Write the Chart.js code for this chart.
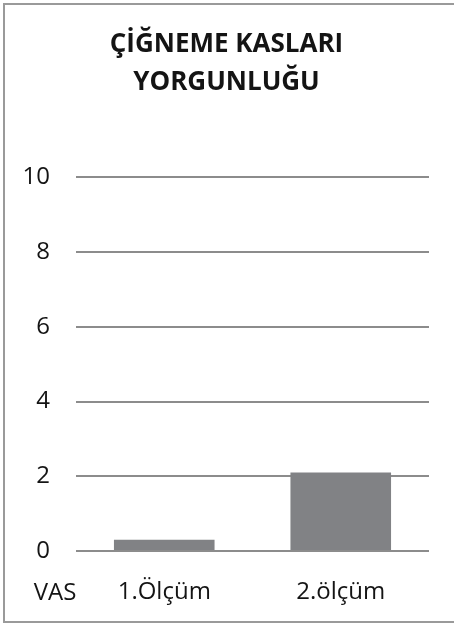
<!DOCTYPE html>
<html>
<head>
<meta charset="utf-8">
<script src="https://cdn.jsdelivr.net/npm/chart.js@4.4.0/dist/chart.umd.min.js"></script>
<style>
  html, body { margin: 0; padding: 0; background: #fff; }
  #wrap { position: relative; width: 454px; height: 623px; overflow: hidden; }
  #frame {
    position: absolute; left: 3px; top: 3px; width: 470px; height: 616px;
    border-top: 2px solid #9a9a9a; border-left: 2px solid #9a9a9a; border-bottom: 2px solid #9a9a9a;
  }
  canvas { position: absolute; left: 0; top: 0; }
</style>
</head>
<body>
<div id="wrap">
  <div id="frame"></div>
  <canvas id="chart" width="454" height="623"></canvas>
</div>
<script>
const titleLines = ['ÇİĞNEME KASLARI', 'YORGUNLUĞU'];
const categories = ['1.Ölçüm', '2.ölçüm'];
const values = [0.3, 2.1];
const yTicks = [0, 2, 4, 6, 8, 10];
const axisNote = 'VAS';

const fontFamily = '"Open Sans", "DejaVu Sans", sans-serif';
const textColor = '#141414';

// draws the "VAS" note left of the category labels
const vasLabel = {
  id: 'vasLabel',
  afterDraw(chart) {
    const ctx = chart.ctx;
    const xs = chart.scales.x;
    const ys = chart.scales.y;
    ctx.save();
    ctx.font = '24px ' + fontFamily;
    ctx.fillStyle = textColor;
    ctx.textAlign = 'center';
    ctx.textBaseline = 'middle';
    ctx.fillText(axisNote, ys.left + 31, xs.top + 42);
    ctx.restore();
  }
};

const ctx = document.getElementById('chart').getContext('2d');
new Chart(ctx, {
  type: 'bar',
  data: {
    labels: categories,
    datasets: [{
      data: values,
      backgroundColor: '#818285',
      borderWidth: 0,
      categoryPercentage: 1,
      barPercentage: 0.57
    }]
  },
  options: {
    responsive: false,
    animation: false,
    layout: { padding: { top: 26, left: 24, right: 25, bottom: 17 } },
    plugins: {
      legend: { display: false },
      tooltip: { enabled: false },
      title: {
        display: true,
        text: titleLines,
        color: textColor,
        font: { family: fontFamily, size: 26, weight: 'bold', lineHeight: 1.45 },
        padding: { top: 0, bottom: 76 }
      }
    },
    scales: {
      x: {
        grid: { display: false, drawTicks: false },
        border: { display: false },
        ticks: { color: textColor, font: { family: fontFamily, size: 24 }, padding: 27 },
        afterFit(axis) { axis.height = 55; }
      },
      y: {
        min: 0,
        max: 10,
        afterBuildTicks(axis) { axis.ticks = yTicks.map(v => ({ value: v })); },
        grid: { color: '#8c8c8c', lineWidth: 2, drawTicks: false },
        border: { display: false },
        ticks: { color: textColor, font: { family: fontFamily, size: 24 }, padding: 26 },
        afterFit(axis) { axis.width = 52; }
      }
    }
  },
  plugins: [vasLabel]
});
</script>
</body>
</html>
